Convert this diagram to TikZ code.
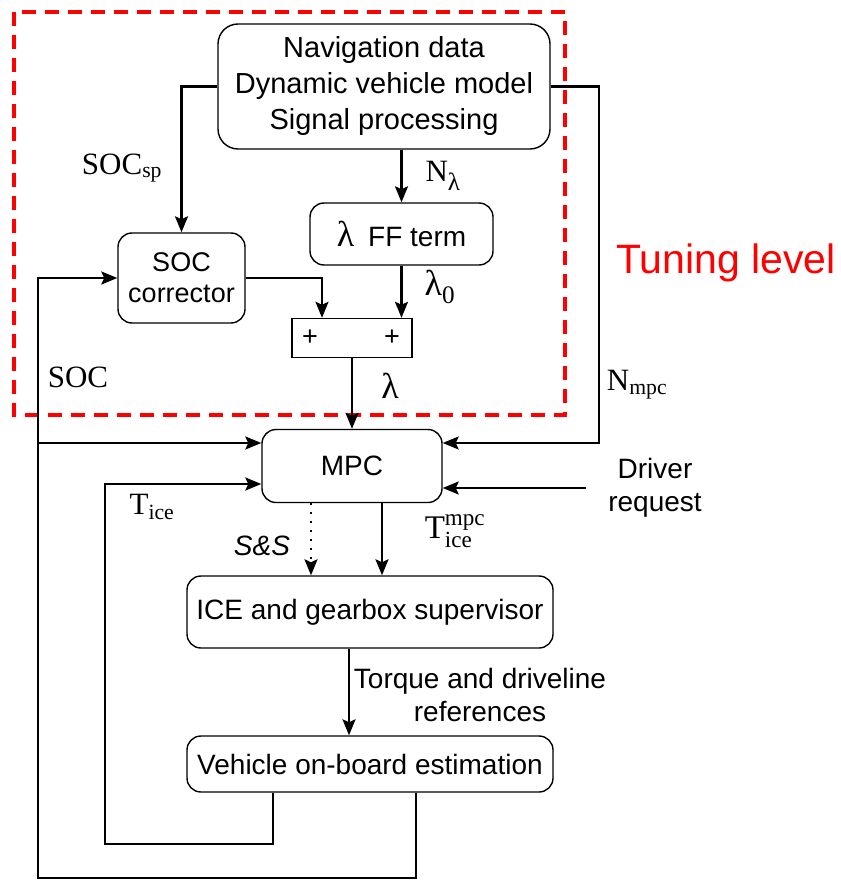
\documentclass[tikz,border=0pt]{standalone}
\usepackage{fontspec}
\setmainfont{Liberation Serif}
\newfontfamily\boxfont{Liberation Sans}
\usetikzlibrary{arrows.meta,calc}

\tikzset{
  blk/.style={draw, line width=1.4pt, rounded corners=14pt, align=center, inner sep=0pt,
    font=\boxfont\fontsize{28}{32}\selectfont},
  wire/.style={line width=2.3pt, -{Stealth[length=16pt,width=13pt,inset=3pt]}},
  lbl/.style={font=\fontsize{31}{36}\selectfont, inner sep=0pt},
  txt/.style={font=\boxfont\fontsize{28}{33}\selectfont, align=center, inner sep=0pt},
}

\begin{document}
\begin{tikzpicture}[x=1pt,y=-1pt]
  \useasboundingbox (0,0) rectangle (840,880);
  % tuning level
  \draw[red, line width=3.5pt, dash pattern=on 14pt off 9pt] (14,12) rectangle (565,415);
  \node[red, font=\boxfont\fontsize{41}{48}\selectfont] (tun) at (726,263) {Tuning level};

  % blocks
  \node[blk, minimum width=332, minimum height=125, rounded corners=20pt,
    font=\boxfont\fontsize{29}{36}\selectfont] (nav) at (384,86.5)
    {Navigation data\\Dynamic vehicle model\\Signal processing};
  \node[blk, minimum width=183, minimum height=62] (ff) at (401.5,234)
    {{\rmfamily\fontsize{36}{36}\selectfont λ}\hspace{14pt}FF term};
  \node[blk, minimum width=127, minimum height=90, font=\boxfont\fontsize{27}{31}\selectfont]
    (soc) at (181.5,278) {SOC\\corrector};
  \node[draw, line width=1.4pt, minimum width=120, minimum height=39] (sum) at (352,338) {};
  \node[font=\boxfont\fontsize{27}{28}\selectfont] (pl) at ($(sum.center)+(-42,0)$) {+};
  \node[font=\boxfont\fontsize{27}{28}\selectfont] (pr) at ($(sum.center)+(40,0)$) {+};
  \node[blk, minimum width=180, minimum height=73] (mpc) at (352,466) {MPC};
  \node[blk, minimum width=366, minimum height=72] (ice) at (370,612)
    {ICE and gearbox supervisor};
  \node[blk, minimum width=366, minimum height=56] (veh) at (370,764)
    {Vehicle on-board estimation};

  % labels
  \node[lbl] (socsp) at (122,168) {SOC\textsubscript{sp}};
  \node[lbl] (nlam) at (443,176) {N\textsubscript{\fontsize{25}{25}\selectfont λ}};
  \node[lbl, font=\fontsize{36}{40}\selectfont] (lam0) at (440,287) {λ\textsubscript{0}};
  \node[lbl, font=\fontsize{36}{40}\selectfont] (lam) at (390,386) {λ};
  \node[lbl] (soclbl) at (78,377) {SOC};
  \node[lbl] (nmpc) at (637,385) {N\textsubscript{mpc}};
  \node[lbl] (tice) at (152,507) {T\textsubscript{ice}};
  \node[lbl, font=\fontsize{33}{36}\selectfont] (tmpc) at (455,531)
    {$\mathrm{T}_{\mathrm{ice}}^{\mathrm{mpc}}$};
  \node[txt, font=\boxfont\itshape\fontsize{28}{33}\selectfont] (ss) at (262,546) {S\&S};
  \node[txt] (drv) at (655,488) {Driver\\request};
  \node[txt] (trq) at (480,695) {Torque and driveline\\references};

  % connectors
  \draw[wire] (nav.west) -| (soc.north);
  \draw[wire] (nav.east) -- ++(48,0) |- ($(mpc.east)+(0,-23)$);
  \draw[wire] (nav.south -| ff.north) -- (ff.north);
  \draw[wire] (ff.south) -- (ff.south |- sum.north);
  \draw[wire] (soc.east) -| ($(sum.north)+(-30,0)$);
  \draw[wire] (sum.south) -- (mpc.north);
  \draw[wire] ([xshift=-22pt]drv.west) -- (drv.west -| mpc.east);
  \draw[wire, dash pattern=on 2pt off 7pt] ($(mpc.south)+(-41,0)$) -- ($(ice.north)+(-59,0)$);
  \draw[wire] ($(mpc.south)+(30,0)$) -- ($(ice.north)+(12,0)$);
  \draw[wire] ($(ice.south)+(-21,0)$) -- ($(veh.north)+(-21,0)$);

  % feedback
  \coordinate (inner) at (105,844);
  \coordinate (outer) at (38,878);
  \draw[wire] ($(veh.south)+(-97,0)$) |- (inner) |- ($(mpc.west)+(0,18)$);
  \draw[wire] ($(veh.south)+(46,0)$) |- (outer) |- ($(mpc.west)+(0,-23)$);
  \draw[wire] (outer) |- (soc.west);
\end{tikzpicture}
\end{document}
